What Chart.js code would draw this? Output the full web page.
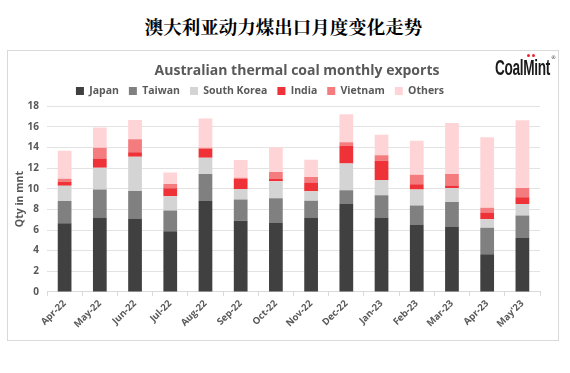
<!DOCTYPE html>
<html>
<head>
<meta charset="utf-8">
<script src="https://cdn.jsdelivr.net/npm/chart.js@4"></script>
<style>
    body { margin: 0; background: #fff; width: 570px; height: 373px; position: relative; overflow: hidden; }
    #pageTitle {
        position: absolute; left: 0; top: 16px; width: 567px; text-align: center;
        font-family: "Noto Serif CJK SC", "Noto Sans CJK SC", serif; font-weight: bold;
        font-size: 18.5px; line-height: 20px; color: #000;
    }
    #frame {
        position: absolute; left: 7px; top: 50px; width: 550px; height: 289px;
        border: 1px solid #d9d9d9;
    }
    #chartBox { position: absolute; left: 0; top: 0; width: 550px; height: 289px; }
    #logo {
        position: absolute; left: 487px; top: 6px; white-space: nowrap;
        font-family: "Liberation Sans Narrow", "Liberation Sans", sans-serif;
        font-weight: bold; font-size: 22px; line-height: 22px; color: #1a1a1a;
        transform-origin: left top; letter-spacing: -0.5px;
    }
    #reg {
        position: absolute; left: 543px; top: 4px; font-family: "DejaVu Sans", sans-serif;
        font-size: 5px; line-height: 5px; color: #333;
    }
    .dot { position: absolute; width: 3px; height: 3px; border-radius: 50%; background: #e8262c; top: 3px; }
</style>
</head>
<body>
<div id="pageTitle">澳大利亚动力煤出口月度变化走势</div>
<div id="frame">
    <div id="chartBox"><canvas id="coalChart"></canvas></div>
    <div class="dot" style="left:519px"></div>
    <div class="dot" style="left:524px"></div>
    <span id="logo">CoalMint</span>
    <div id="reg">®</div>
</div>
<script>
const months = ["Apr-22", "May-22", "Jun-22", "Jul-22", "Aug-22", "Sep-22", "Oct-22",
                "Nov-22", "Dec-22", "Jan-23", "Feb-23", "Mar-23", "Apr-23", "May'23"];

const japan      = [6.66, 7.21, 7.12, 5.89, 8.82, 6.89, 6.73, 7.21, 8.53, 7.21, 6.54, 6.34, 3.64, 5.22];
const taiwan     = [2.16, 2.71, 2.67, 2.00, 2.61, 2.06, 2.35, 1.64, 1.32, 2.16, 1.83, 2.39, 2.57, 2.19];
const southKorea = [1.48, 2.12, 3.31, 1.38, 1.58, 1.03, 1.64, 0.91, 2.61, 1.48, 1.55, 1.35, 0.84, 1.12];
const india      = [0.39, 0.90, 0.45, 0.78, 0.87, 1.00, 0.23, 0.86, 1.71, 1.87, 0.51, 0.25, 0.64, 0.65];
const vietnam    = [0.29, 1.03, 1.26, 0.41, 0.09, 0.10, 0.67, 0.52, 0.35, 0.54, 0.94, 1.10, 0.46, 0.90];
const others     = [2.70, 1.97, 1.87, 1.13, 2.84, 1.70, 2.42, 1.67, 2.70, 1.97, 3.28, 4.96, 6.85, 6.57];

const yTicks = [0, 2, 4, 6, 8, 10, 12, 14, 16, 18];

const textGray = "#595959";

// nudge title / legend sideways, they are not centred in the original
const shiftBlocks = {
    id: "shiftBlocks",
    afterLayout(chart) {
        const t = chart.titleBlock;
        const dt = 289 - (t.left + t.right) / 2;
        t.left += dt; t.right += dt;
        const l = chart.legend;
        const dl = 252 - (l.left + l.right) / 2;
        l.left += dl; l.right += dl;
    }
};

function makeSet(label, data, color) {
    return {
        label: label,
        data: data,
        backgroundColor: color,
        borderWidth: 0,
        barPercentage: 0.39,
        categoryPercentage: 1
    };
}

function fitLogo() {
    // squeeze the wordmark into ~55px like the original
    const logo = document.getElementById("logo");
    const w = logo.getBoundingClientRect().width;
    logo.style.transform = "scaleX(" + (55 / w) + ")";
}

function renderChart() {
    const ctx = document.getElementById("coalChart").getContext("2d");
    Chart.defaults.font.family = "'Open Sans', sans-serif";

    new Chart(ctx, {
        type: "bar",
        data: {
            labels: months,
            datasets: [
                makeSet("Japan", japan, "#404040"),
                makeSet("Taiwan", taiwan, "#808080"),
                makeSet("South Korea", southKorea, "#d4d4d4"),
                makeSet("India", india, "#ee3238"),
                makeSet("Vietnam", vietnam, "#f47b7e"),
                makeSet("Others", others, "#ffd4d7")
            ]
        },
        options: {
            responsive: true,
            maintainAspectRatio: false,
            animation: false,
            layout: { padding: { left: 0, right: 18, top: 0, bottom: 8 } },
            plugins: {
                title: {
                    display: true,
                    text: "Australian thermal coal monthly exports",
                    color: textGray,
                    font: { size: 14, weight: "bold" },
                    padding: { top: 12, bottom: -4 }
                },
                legend: {
                    position: "top",
                    labels: {
                        color: textGray,
                        boxWidth: 8,
                        boxHeight: 8,
                        padding: 10,
                        font: { size: 10.5, weight: "bold" }
                    }
                },
                tooltip: { enabled: false }
            },
            scales: {
                x: {
                    stacked: true,
                    grid: { display: true, drawOnChartArea: false, drawTicks: true, tickLength: 4, color: "#d9d9d9" },
                    border: { color: "#d9d9d9" },
                    ticks: {
                        color: textGray,
                        minRotation: 45,
                        maxRotation: 45,
                        padding: 2,
                        font: { size: 9.5, weight: "bold" }
                    }
                },
                y: {
                    stacked: true,
                    min: 0,
                    max: 18,
                    afterBuildTicks(scale) {
                        scale.ticks = yTicks.map(v => ({ value: v }));
                    },
                    afterFit(scale) {
                        scale.width = 39;
                    },
                    grid: { color: "#e3e3e3", drawTicks: false },
                    border: { display: false },
                    ticks: {
                        color: textGray,
                        padding: 8,
                        font: { size: 10, weight: "bold" }
                    },
                    title: {
                        display: true,
                        text: "Qty in mnt",
                        color: textGray,
                        padding: { top: 6, bottom: 0 },
                        font: { size: 10.5, weight: "bold" }
                    }
                }
            }
        },
        plugins: [shiftBlocks]
    });
}

document.addEventListener("DOMContentLoaded", function () {
    fitLogo();
    renderChart();
});
</script>
</body>
</html>
